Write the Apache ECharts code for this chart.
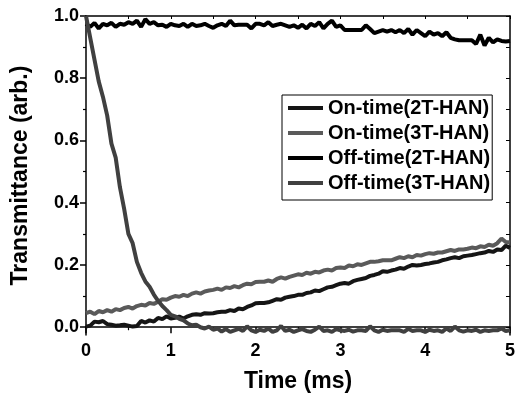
<!DOCTYPE html>
<html>
<head>
<meta charset="utf-8">
<script src="https://cdn.jsdelivr.net/npm/echarts@6/dist/echarts.min.js"></script>
<style>html,body{margin:0;padding:0;background:#fff}#c{width:518px;height:403px}</style>
</head>
<body>
<div id="c"></div>
<script>
const time = [0,0.05,0.1,0.15,0.2,0.25,0.3,0.35,0.4,0.45,0.5,0.55,0.6,0.65,0.7,0.75,0.8,0.85,0.9,0.95,1.0,
1.05,1.1,1.15,1.2,1.25,1.3,1.35,1.4,1.45,1.5,1.55,1.6,1.65,1.7,1.75,1.8,1.85,1.9,1.95,2.0,
2.05,2.1,2.15,2.2,2.25,2.3,2.35,2.4,2.45,2.5,2.55,2.6,2.65,2.7,2.75,2.8,2.85,2.9,2.95,3.0,
3.05,3.1,3.15,3.2,3.25,3.3,3.35,3.4,3.45,3.5,3.55,3.6,3.65,3.7,3.75,3.8,3.85,3.9,3.95,4.0,
4.05,4.1,4.15,4.2,4.25,4.3,4.35,4.4,4.45,4.5,4.55,4.6,4.65,4.7,4.75,4.8,4.85,4.9,4.95,5.0];

const onTime2T = [0.002,0.005,0.018,0.016,0.02,0.01,0.008,0.005,0.006,0.008,0.005,
0.002,0.004,0.02,0.015,0.022,0.018,0.03,0.026,0.035,0.028,
0.03,0.034,0.028,0.035,0.04,0.042,0.04,0.045,0.044,0.045,
0.048,0.05,0.05,0.055,0.052,0.06,0.058,0.065,0.07,0.077,
0.078,0.078,0.08,0.085,0.09,0.088,0.095,0.098,0.1,0.104,
0.104,0.11,0.112,0.118,0.116,0.122,0.128,0.13,0.135,0.14,
0.142,0.14,0.148,0.152,0.155,0.158,0.165,0.168,0.172,0.18,
0.178,0.182,0.185,0.19,0.188,0.195,0.2,0.198,0.2,0.203,
0.205,0.208,0.21,0.215,0.218,0.222,0.225,0.222,0.228,0.23,
0.232,0.235,0.238,0.24,0.245,0.242,0.25,0.248,0.262,0.255];

const onTime3T = [0.045,0.05,0.042,0.052,0.048,0.055,0.05,0.058,0.055,0.062,0.065,
0.06,0.068,0.072,0.07,0.078,0.075,0.082,0.09,0.088,0.095,
0.1,0.098,0.104,0.1,0.108,0.112,0.108,0.115,0.118,0.12,
0.124,0.12,0.128,0.126,0.132,0.128,0.135,0.14,0.138,0.145,
0.146,0.146,0.15,0.146,0.155,0.16,0.156,0.162,0.166,0.17,
0.168,0.175,0.172,0.178,0.176,0.182,0.185,0.182,0.19,0.192,
0.19,0.198,0.196,0.202,0.2,0.205,0.21,0.21,0.212,0.215,
0.215,0.215,0.22,0.225,0.222,0.228,0.225,0.232,0.23,0.235,
0.238,0.236,0.24,0.24,0.244,0.248,0.245,0.25,0.25,0.252,
0.256,0.254,0.26,0.258,0.265,0.262,0.27,0.285,0.274,0.272];

const offTime2T = [0.975,0.965,0.978,0.96,0.975,0.97,0.978,0.965,0.975,0.972,0.98,
0.975,0.985,0.965,0.99,0.975,0.98,0.97,0.972,0.965,0.975,
0.97,0.968,0.975,0.965,0.975,0.968,0.97,0.975,0.968,0.962,
0.97,0.975,0.968,0.985,0.97,0.972,0.972,0.972,0.96,0.975,
0.975,0.97,0.98,0.968,0.972,0.975,0.97,0.965,0.97,0.962,
0.972,0.96,0.975,0.968,0.98,0.96,0.975,0.985,0.965,0.97,
0.955,0.955,0.955,0.955,0.955,0.97,0.958,0.945,0.95,0.955,
0.95,0.955,0.948,0.955,0.945,0.958,0.94,0.955,0.945,0.935,
0.95,0.94,0.945,0.935,0.948,0.93,0.925,0.922,0.922,0.922,
0.922,0.91,0.94,0.905,0.93,0.915,0.925,0.92,0.918,0.92];

const offTime3T = [1.0,0.93,0.86,0.79,0.74,0.68,0.59,0.545,0.45,0.38,0.30,
0.27,0.21,0.175,0.147,0.13,0.105,0.085,0.068,0.055,0.04,
0.035,0.027,0.022,0.012,0.006,0.008,0.0,-0.004,0.002,-0.008,
-0.004,-0.014,-0.006,-0.015,-0.01,-0.005,-0.012,0.003,-0.01,-0.015,
-0.008,-0.012,-0.004,-0.015,-0.01,0.004,-0.012,-0.008,-0.015,-0.01,
-0.006,-0.012,-0.015,-0.008,0.002,-0.012,-0.01,-0.015,-0.006,-0.01,
-0.012,-0.008,-0.014,-0.01,-0.01,-0.012,0.003,-0.01,-0.015,-0.008,
-0.012,-0.01,-0.01,-0.01,-0.015,-0.005,-0.012,-0.01,-0.01,-0.015,
-0.008,-0.012,-0.01,-0.015,-0.004,-0.012,0.002,-0.01,-0.014,-0.01,
-0.012,-0.008,-0.015,-0.01,-0.012,-0.01,-0.01,-0.004,-0.012,-0.01];

const seriesNames = ['On-time(2T-HAN)','On-time(3T-HAN)','Off-time(2T-HAN)','Off-time(3T-HAN)'];
const seriesColors = ['#151515','#5a5a5a','#000000','#404040'];
const yMajorTicks = [0,0.2,0.4,0.6,0.8,1.0];
const yMinorTicks = [0.1,0.3,0.5,0.7,0.9];
const yRightTicks = [0,0.1,0.2,0.3,0.4,0.5,0.6,0.7,0.8,0.9,1.0];

const F = 'Liberation Sans, Arial, sans-serif';
const allSeries = [onTime2T, onTime3T, offTime2T, offTime3T];

const chart = echarts.init(document.getElementById('c'), null, {renderer:'canvas'});
const axisLineStyle = {color:'#000', width:1.5};
chart.setOption({
  animation:false,
  backgroundColor:'#fff',
  grid:{left:86, right:4, top:16, bottom:68, containLabel:false},
  legend:{
    orient:'vertical', left:282, top:95,
    padding:[3,2,7,6], itemGap:5, itemWidth:35, itemHeight:14,
    backgroundColor:'#fff', borderColor:'#000', borderWidth:1, borderRadius:0,
    textStyle:{fontFamily:F, fontWeight:'bold', fontSize:20, color:'#000', lineHeight:20},
    data:seriesNames.map(n=>({name:n, icon:'path://M0,5 L35,5 L35,9 L0,9 Z'}))
  },
  xAxis:[
    {type:'value', min:0, max:5, interval:1, position:'bottom',
     name:'Time (ms)', nameLocation:'middle', nameGap:35,
     nameTextStyle:{fontFamily:F, fontWeight:'bold', fontSize:23, color:'#000'},
     axisLine:{show:true, lineStyle:axisLineStyle},
     axisTick:{show:true, inside:false, length:6, lineStyle:{color:'#000', width:1.5}},
     minorTick:{show:true, splitNumber:2, length:3, lineStyle:{color:'#000', width:1.2}},
     axisLabel:{fontFamily:F, fontWeight:'bold', fontSize:18, color:'#000', margin:7},
     splitLine:{show:false}},
    {type:'value', min:0, max:5, interval:0.5, position:'top',
     axisLine:{show:true, onZero:false, lineStyle:axisLineStyle},
     axisTick:{show:true, inside:true, length:3, lineStyle:{color:'#000', width:1}},
     axisLabel:{show:false}, splitLine:{show:false}}
  ],
  yAxis:[
    {type:'value', min:-0.025, max:1.0, position:'left',
     name:'Transmittance (arb.)', nameLocation:'middle', nameGap:54,
     nameTextStyle:{fontFamily:F, fontWeight:'bold', fontSize:23, color:'#000'},
     axisLine:{show:true, onZero:false, lineStyle:axisLineStyle},
     axisTick:{show:true, inside:false, length:6, customValues:yMajorTicks, lineStyle:{color:'#000', width:1.5}},
     axisLabel:{fontFamily:F, fontWeight:'bold', fontSize:18, color:'#000', margin:7,
       customValues:yMajorTicks, formatter:v=>v.toFixed(1)},
     splitLine:{show:false}},
    {type:'value', min:-0.025, max:1.0, position:'left',
     axisLine:{show:false},
     axisTick:{show:true, inside:false, length:3, customValues:yMinorTicks, lineStyle:{color:'#000', width:1.2}},
     axisLabel:{show:false}, splitLine:{show:false}},
    {type:'value', min:-0.025, max:1.0, position:'right',
     axisLine:{show:true, onZero:false, lineStyle:axisLineStyle},
     axisTick:{show:true, inside:true, length:4, customValues:yRightTicks, lineStyle:{color:'#000', width:1}},
     axisLabel:{show:false}, splitLine:{show:false}}
  ],
  series: seriesNames.map((n,i)=>({
    name:n, type:'line', xAxisIndex:0, yAxisIndex:0,
    symbol:'none', showSymbol:false,
    lineStyle:{color:seriesColors[i], width:4},
    itemStyle:{color:seriesColors[i]},
    data: time.map((t,k)=>[t, allSeries[i][k]]),
    clip:true
  }))
});
</script>
</body>
</html>
